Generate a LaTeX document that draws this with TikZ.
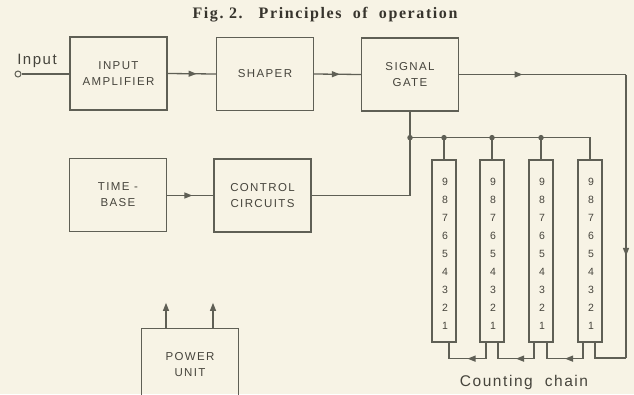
\documentclass[tikz,border=0pt]{standalone}
\usepackage{fontspec}
\setmainfont{Liberation Serif}
\setsansfont{Liberation Sans}
\usetikzlibrary{arrows.meta,decorations.markings,calc}
\definecolor{bg}{RGB}{247,243,229}
\definecolor{ink}{RGB}{95,95,85}
\definecolor{txt}{RGB}{70,68,60}
\definecolor{ttl}{RGB}{55,52,45}
\newfontfamily\boxfont[LetterSpace=12]{Liberation Sans}
\newfontfamily\labelfont[LetterSpace=10]{Liberation Sans}
\newfontfamily\digitfont{Liberation Sans}
\newfontfamily\titlefont[LetterSpace=10]{Liberation Serif}
\begin{document}
\begin{tikzpicture}[x=1pt,y=-1pt,line width=1.3pt,draw=ink,
  blk/.style={draw,rectangle,minimum width=97pt,minimum height=73pt,inner sep=0pt,align=center,text=txt,
    font=\boxfont\fontsize{11.5}{16}\selectfont},
  ctr/.style={draw,rectangle,minimum width=24pt,minimum height=182pt,inner sep=0pt},
  dig/.style={text=txt,inner sep=0pt,font=\digitfont\fontsize{10.5}{11}\selectfont},
  jdot/.style={circle,fill=ink,inner sep=0pt,minimum size=5.5pt},
  marr/.style={postaction={decorate},decoration={markings,mark=at position #1 with {\arrow{Triangle[length=8pt,width=6pt]}}}},
  uparr/.style={-{Triangle[length=8pt,width=6pt]}}]
\useasboundingbox (0,0) rectangle (634,394);
\fill[bg] (0,0) rectangle (634,394);
\clip (0,0) rectangle (634,394);

% title
\node[anchor=base,text=ttl,font=\titlefont\bfseries\fontsize{16}{18}\selectfont] (title) at (325,18)
  {Fig.\ 2.\quad Principles\ \ of\ \ operation};

% blocks
\node[blk] (inamp) at (118.5,73.5) {INPUT\\AMPLIFIER};
\node[blk] (shaper) at (265,74) {SHAPER};
\node[blk] (gate) at (410,74.5) {SIGNAL\\GATE};
\node[blk] (tb) at (118,195) {TIME -\\BASE};
\node[blk] (ctl) at (262.5,195.5) {CONTROL\\CIRCUITS};
\node[blk] (pwr) at (190,365) {POWER\\UNIT};

% input
\node[circle,draw,fill=bg,inner sep=0pt,minimum size=6pt,line width=1pt] (in) at (18,74) {};
\node[anchor=base,text=txt,font=\labelfont\fontsize{15}{17}\selectfont] (inl) at (37,64) {Input};
\draw (in.east) -- (in.east -| inamp.west);

% main chain
\draw[marr=0.6] (inamp.east) -- (shaper.west);
\draw[marr=0.55] (shaper.east) -- (gate.west);
\draw[marr=0.55] (tb.east) -- (ctl.east -| tb.east) -- (ctl.west);

% counters
\foreach \n/\x in {1/444,2/492,3/541,4/590}{
  \node[ctr] (c\n) at (\x,251) {};
  \foreach \d [count=\k] in {9,8,7,6,5,4,3,2,1}{
    \node[dig] (c\n d\d) at (\x+1,{182+(\k-1)*18}) {\d};
  }
}

% coordinates
\coordinate (rx) at (626,0);
\coordinate (by) at (0,358);
\coordinate (rt) at (gate.east -| rx);
\coordinate (rb) at (rx |- by);
\coordinate (j0) at ($(gate.south)+(0,26)$);

% output to right and down
\draw[marr=0.38] (gate.east) -- (rt);
\draw[marr=0.64] (rt) -- (rb);
\draw (rb) -| ($(c4.south)+(5,0)$);

% carry links
\draw[marr=0.5] ($(c4.south)+(-7,0)$) -- ++(0,16) -| ($(c3.south)+(6,0)$);
\draw[marr=0.5] ($(c3.south)+(-7,0)$) -- ++(0,16) -| ($(c2.south)+(6,0)$);
\draw[marr=0.5] ($(c2.south)+(-6,0)$) -- ++(0,16) -| ($(c1.south)+(5,0)$);

% gate to control and bus
\draw (gate.south) -- (gate.south |- ctl.east) -- (ctl.east);
\draw (j0) -| (c4.north);
\foreach \n in {1,2,3}{
  \draw (j0 -| c\n.north) -- (c\n.north);
  \node[jdot] (jd\n) at (j0 -| c\n.north) {};
}
\node[jdot] (jd0) at (j0) {};

% power unit arrows
\draw[uparr] ($(pwr.north)+(-24,0)$) -- ++(0,-25);
\draw[uparr] ($(pwr.north)+(23,0)$) -- ++(0,-25);

% counting chain label
\node[anchor=base,text=txt,font=\labelfont\fontsize{15.5}{17}\selectfont] (cc) at (524,386) {Counting\hspace{12pt}chain};
\end{tikzpicture}
\end{document}
